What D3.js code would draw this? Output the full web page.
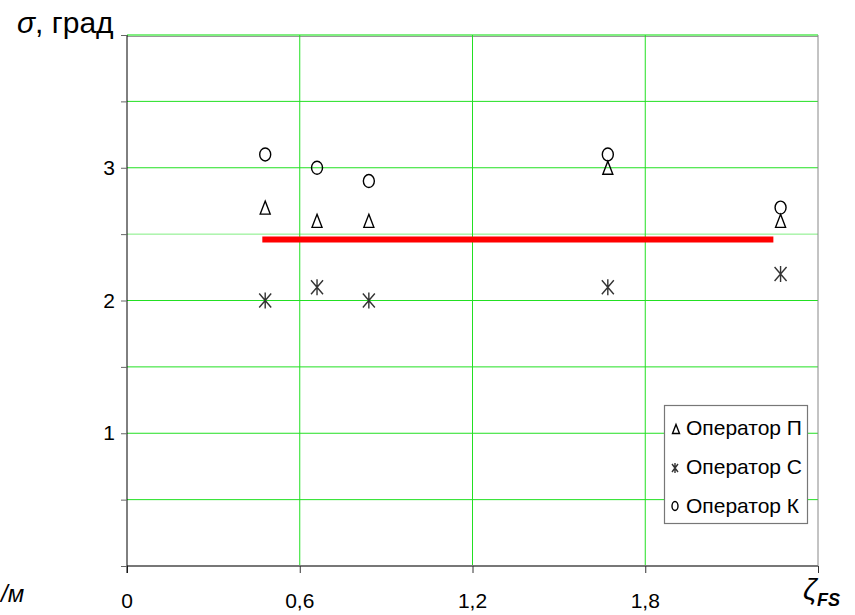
<!DOCTYPE html>
<html>
<head>
<meta charset="utf-8">
<script src="https://cdn.jsdelivr.net/npm/d3@7"></script>
<style>
  body { margin: 0; background: #fff; }
  svg { font-family: "Liberation Sans", Arial, sans-serif; }
</style>
</head>
<body>
<svg id="chart" width="855" height="615"></svg>
<script>
// data
const xVals = [0.48, 0.66, 0.84, 1.67, 2.27];      // zeta_FS positions of the measurements
const operP = [2.7, 2.6, 2.6, 3.0, 2.6];           // triangles
const operS = [2.0, 2.1, 2.0, 2.1, 2.2];           // stars
const operK = [3.1, 3.0, 2.9, 3.1, 2.7];           // circles
const meanLine = { x0: 0.47, x1: 2.245, y: 2.46 }; // red level
const yTickLabels = [1, 2, 3];
const xTickValues = [0, 0.6, 1.2, 1.8];
const xTickLabels = ["0", "0,6", "1,2", "1,8"];
const legendNames = ["Оператор П", "Оператор С", "Оператор К"];

const svg = d3.select("#chart");
const plotL = 127, plotR = 818, plotT = 35, plotB = 566;

const x = d3.scaleLinear().domain([0, 2.4]).range([plotL, plotR]);
const y = d3.scaleLinear().domain([0, 4]).range([plotB, plotT]);

// horizontal grid every 0.5
svg.append("g")
  .selectAll("line")
  .data(d3.range(0.5, 4.01, 0.5))
  .join("line")
  .attr("x1", plotL).attr("x2", plotR)
  .attr("y1", d => y(d)).attr("y2", d => y(d))
  .attr("stroke", d => d === 2.5 || d === 4 ? "#80ee80" : "#22e022")
  .attr("stroke-width", d => d === 4 ? 2 : 1);

// top border (grey under the green)
svg.append("line")
  .attr("x1", plotL).attr("x2", plotR).attr("y1", plotT + 1.5).attr("y2", plotT + 1.5)
  .attr("stroke", "#999").attr("stroke-width", 1);

// vertical grid every 0.6
svg.append("g")
  .selectAll("line")
  .data([0.6, 1.2, 1.8])
  .join("line")
  .attr("x1", d => x(d)).attr("x2", d => x(d))
  .attr("y1", plotT).attr("y2", plotB)
  .attr("stroke", "#22e022");

// right border
svg.append("line")
  .attr("x1", plotR).attr("x2", plotR).attr("y1", plotT).attr("y2", plotB)
  .attr("stroke", "#888");

// x axis
const xAxis = d3.axisBottom(x)
  .tickValues([0, 0.6, 1.2, 1.8, 2.4])
  .tickSize(7)
  .tickFormat("");
const gx = svg.append("g").attr("transform", `translate(0,${plotB})`).call(xAxis);
gx.select(".domain").attr("stroke", "#777").attr("stroke-width", 2).attr("d", `M${plotL},0H${plotR}`);
gx.selectAll(".tick line").attr("stroke", "#333");

// y axis
const yAxis = d3.axisLeft(y)
  .tickValues(d3.range(0, 4.01, 0.5))
  .tickSize(6)
  .tickFormat(d => yTickLabels.includes(d) ? d : "");
const gy = svg.append("g").attr("transform", `translate(${plotL},0)`).call(yAxis);
gy.select(".domain").attr("stroke", "#000").attr("d", `M0,${plotT}V${plotB + 7}`);
gy.selectAll(".tick line").attr("stroke", "#666");
gy.selectAll(".tick text")
  .attr("x", -12)
  .attr("font-size", 21)
  .attr("font-family", "Liberation Sans, Arial, sans-serif")
  .attr("fill", "#000");

// x tick labels
svg.append("g")
  .selectAll("text")
  .data(xTickValues)
  .join("text")
  .attr("x", d => x(d))
  .attr("y", 608)
  .attr("text-anchor", "middle")
  .attr("font-size", 21)
  .text((d, i) => xTickLabels[i]);

// red line
svg.append("line")
  .attr("x1", x(meanLine.x0)).attr("x2", x(meanLine.x1))
  .attr("y1", y(meanLine.y)).attr("y2", y(meanLine.y))
  .attr("stroke", "#ff0000").attr("stroke-width", 6);

// marker shapes
function triangle(g, cx, cy, w, h) {
  g.append("path")
    .attr("d", `M${cx},${cy - h / 2}L${cx + w / 2},${cy + h / 2}L${cx - w / 2},${cy + h / 2}Z`)
    .attr("fill", "none").attr("stroke", "#000").attr("stroke-width", 1.4);
}
function circle(g, cx, cy, rx, ry) {
  g.append("ellipse")
    .attr("cx", cx).attr("cy", cy).attr("rx", rx).attr("ry", ry)
    .attr("fill", "none").attr("stroke", "#000").attr("stroke-width", 1.4);
}
function star(g, cx, cy, w, h) {
  g.append("path")
    .attr("d", `M${cx},${cy - h / 2}V${cy + h / 2}M${cx - w / 2},${cy - h / 2 + 1}L${cx + w / 2},${cy + h / 2 - 1}M${cx + w / 2},${cy - h / 2 + 1}L${cx - w / 2},${cy + h / 2 - 1}`)
    .attr("fill", "none").attr("stroke", "#333").attr("stroke-width", 1.4);
}

const pts = svg.append("g");
xVals.forEach((xv, i) => {
  triangle(pts, x(xv), y(operP[i]), 10, 13);
  star(pts, x(xv), y(operS[i]), 12, 16);
  circle(pts, x(xv), y(operK[i]), 5.5, 6.5);
});

// legend
const lg = svg.append("g");
lg.append("rect")
  .attr("x", 664.5).attr("y", 405.5).attr("width", 143).attr("height", 118)
  .attr("fill", "#fff").attr("stroke", "#777").attr("stroke-width", 1.2);
legendNames.forEach((name, i) => {
  const base = 435 + i * 39;
  if (i === 0) triangle(lg, 676, base - 6, 7, 9);
  if (i === 1) star(lg, 675, base - 6, 6, 10);
  if (i === 2) circle(lg, 675, base - 7, 3, 4.5);
  lg.append("text")
    .attr("x", 686).attr("y", base)
    .attr("font-size", 21)
    .text(name);
});

// axis titles
const yt = svg.append("text").attr("x", 17).attr("y", 33).attr("font-size", 30);
yt.append("tspan").attr("font-style", "italic").text("σ");
yt.append("tspan").text(", град");

const xt = svg.append("text").attr("x", 803).attr("y", 600).attr("font-size", 30).attr("font-style", "italic");
xt.append("tspan").text("ζ");
xt.append("tspan").attr("font-size", 18).attr("font-weight", "bold").attr("dy", 6).text("FS");

svg.append("text")
  .attr("x", 1).attr("y", 602)
  .attr("font-size", 24).attr("font-style", "italic")
  .text("/м");
</script>
</body>
</html>
